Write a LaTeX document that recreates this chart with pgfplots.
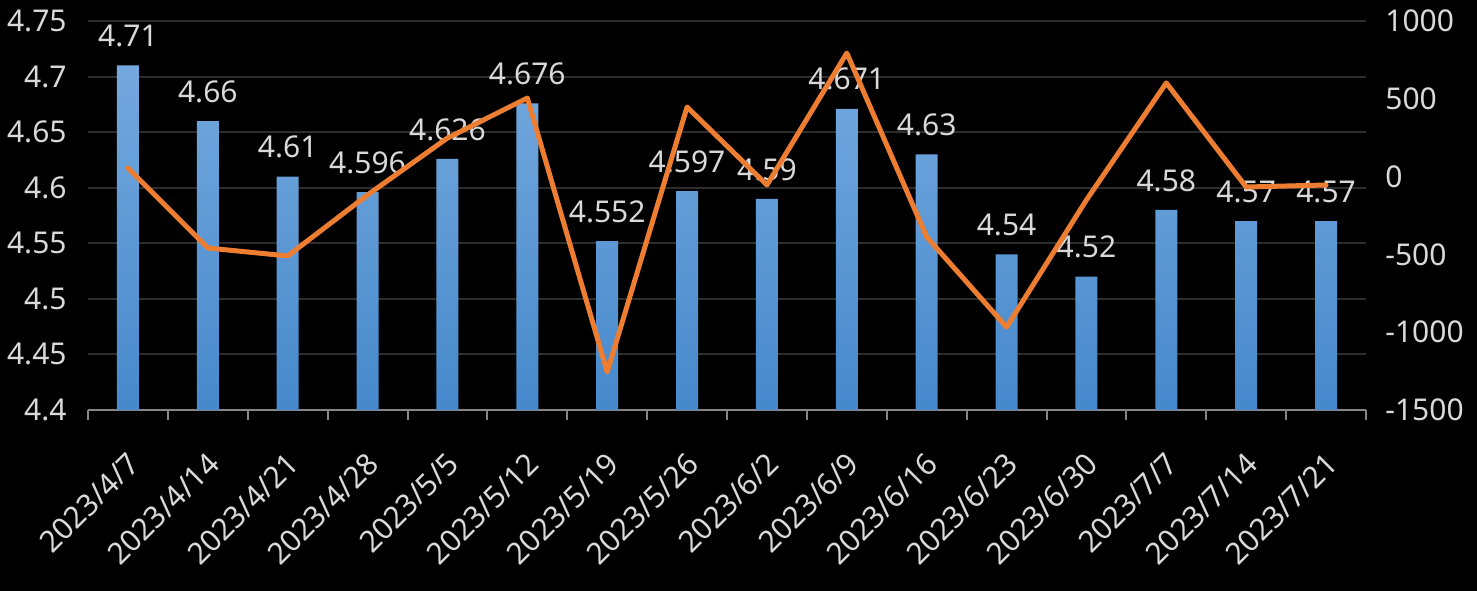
\documentclass[border=0pt]{standalone}
\usepackage{pgfplots}
\pgfplotsset{compat=1.18}
\usepackage{pgfplotstable}
\usepackage{fontspec}
\setmainfont{Noto Sans}
\definecolor{txt}{RGB}{217,217,217}
\definecolor{gridc}{RGB}{45,45,45}
\definecolor{axgray}{RGB}{134,134,134}
\definecolor{barTop}{RGB}{116,168,222}
\definecolor{barBot}{RGB}{70,137,204}
\definecolor{lineor}{RGB}{237,125,49}

\pgfplotstableread{
x y label
0 4.71 4.71
1 4.66 4.66
2 4.61 4.61
3 4.596 4.596
4 4.626 4.626
5 4.676 4.676
6 4.552 4.552
7 4.597 4.597
8 4.59 4.59
9 4.671 4.671
10 4.63 4.63
11 4.54 4.54
12 4.52 4.52
13 4.58 4.58
14 4.57 4.57
15 4.57 4.57
}\bars

\pgfplotstableread{
x y
0 55
1 -459
2 -510
3 -118
4 248
5 505
6 -1256
7 447
8 -54
9 794
10 -388
11 -967
12 -150
13 602
14 -67
15 -54
}\flow

\begin{document}
\begin{tikzpicture}
\fill[black] (-44bp,-90.5bp) rectangle (694.5bp,205bp);
\path[use as bounding box] (-44bp,-90.5bp) rectangle (694.5bp,205bp);
\begin{axis}[
  at={(0,0)}, anchor=south west,
  scale only axis, width=639bp, height=194.5bp,
  xmin=-0.5, xmax=15.5, ymin=4.4, ymax=4.75,
  axis x line*=bottom, axis y line*=left,
  x axis line style={-, draw=axgray, line width=1bp},
  y axis line style={draw=none},
  xtick={0,...,15},
  xticklabels={2023/4/7,2023/4/14,2023/4/21,2023/4/28,2023/5/5,2023/5/12,2023/5/19,2023/5/26,2023/6/2,2023/6/9,2023/6/16,2023/6/23,2023/6/30,2023/7/7,2023/7/14,2023/7/21},
  minor xtick={-0.5,0.5,...,15.5},
  major tick length=0pt, minor tick length=5bp, tick align=outside,
  every minor tick/.append style={axgray, line width=1bp},
  ytick={4.4,4.45,4.5,4.55,4.6,4.65,4.7,4.75},
  yticklabels={4.4,4.45,4.5,4.55,4.6,4.65,4.7,4.75},
  ymajorgrids, grid style={gridc, line width=1bp},
  tick label style={font=\fontsize{15bp}{17bp}\selectfont, text=txt},
  yticklabel style={anchor=east, inner sep=0pt, xshift=-10.5bp},
  xticklabel style={yshift=-20bp, xshift=-1bp, rotate=45, anchor=north east, inner sep=0pt},
]
\addplot[ybar, bar width=11bp, draw=none, top color=barTop, bottom color=barBot,
  point meta=explicit symbolic, nodes near coords,
  every node near coord/.append style={font=\fontsize{15bp}{17bp}\selectfont, text=txt, inner sep=0pt, anchor=south, yshift=9bp}]
  table[x=x, y=y, meta=label] {\bars};
\end{axis}
\begin{axis}[
  at={(0,0)}, anchor=south west,
  scale only axis, width=639bp, height=194.5bp,
  xmin=-0.5, xmax=15.5, ymin=-1500, ymax=1000,
  axis y line*=right, axis x line=none,
  y axis line style={draw=none},
  ytick={-1500,-1000,-500,0,500,1000},
  yticklabels={-1500,-1000,-500,0,500,1000},
  major tick length=0pt,
  tick label style={font=\fontsize{15bp}{17bp}\selectfont, text=txt},
  yticklabel style={anchor=west, inner sep=0pt, xshift=9.5bp},
]
\addplot[lineor, line width=2.5bp, line join=round, line cap=round, mark=none] table[x=x, y=y] {\flow};
\end{axis}
\end{tikzpicture}
\end{document}
